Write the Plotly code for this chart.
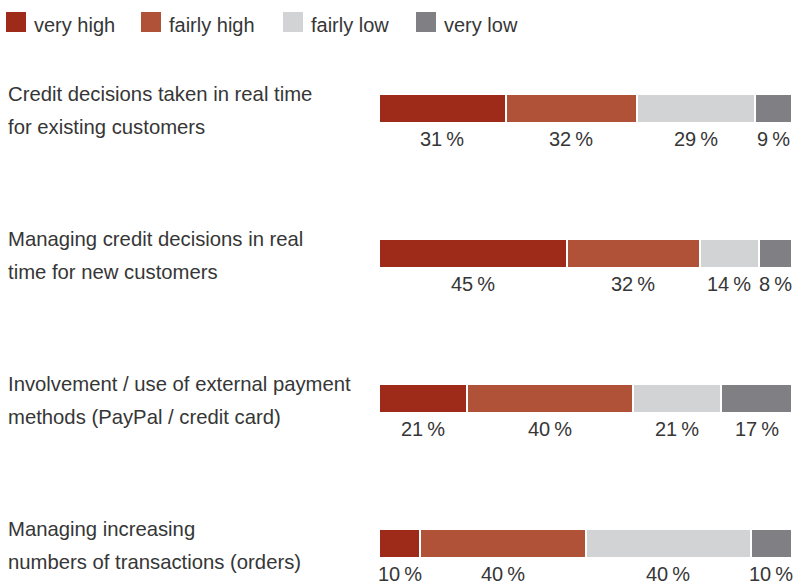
import plotly.graph_objects as go

# Survey items (each split into its two display lines)
categories = [
    "Credit decisions taken in real time<br>for existing customers",
    "Managing credit decisions in real<br>time for new customers",
    "Involvement / use of external payment<br>methods (PayPal / credit card)",
    "Managing increasing<br>numbers of transactions (orders)",
]

series_names = ["very high", "fairly high", "fairly low", "very low"]

very_high = [31, 45, 21, 10]
fairly_high = [32, 32, 40, 40]
fairly_low = [29, 14, 21, 40]
very_low = [9, 8, 17, 10]

series_values = [very_high, fairly_high, fairly_low, very_low]
series_colors = ["#9E2A19", "#B05237", "#D2D3D5", "#808084"]

TEXT_COLOR = "#363636"
FONT = "Liberation Sans, Arial, sans-serif"
W, H = 795, 582

fig = go.Figure()

for name, vals, color in zip(series_names, series_values, series_colors):
    fig.add_trace(go.Bar(
        name=name,
        y=categories,
        x=vals,
        orientation="h",
        width=0.2,
        marker=dict(color=color, line=dict(color="white", width=2)),
        showlegend=False,
        hoverinfo="skip",
    ))

annotations = []

# Percentage labels under each segment (segments are normalised per row)
for ci, cat in enumerate(categories):
    row = [vals[ci] for vals in series_values]
    total = sum(row)
    cum = 0
    for v in row:
        mid = (cum + v / 2) / total * 100
        cum += v
        annotations.append(dict(
            x=mid, y=cat, xref="x", yref="y",
            text=f"{v}\u2009%", showarrow=False,
            xanchor="center", yanchor="middle", yshift=-30.5,
            font=dict(size=20, color=TEXT_COLOR, family=FONT),
        ))

# Row labels on the left, one annotation per line for wider leading
for cat in categories:
    lines = cat.split("<br>")
    for li, line in enumerate(lines):
        annotations.append(dict(
            x=6 / W, y=cat, xref="paper", yref="y",
            text=line, showarrow=False,
            xanchor="left", yanchor="middle",
            yshift=14.5 if li == 0 else -18,
            font=dict(size=20.3, color=TEXT_COLOR, family=FONT),
        ))

# Legend drawn as swatches plus labels across the top
legend_x = [6, 141, 283, 416]
shapes = []
for name, color, lx in zip(series_names, series_colors, legend_x):
    shapes.append(dict(
        type="rect", xref="paper", yref="paper",
        x0=lx / W, x1=(lx + 20) / W, y0=1 - 32 / H, y1=1 - 12 / H,
        fillcolor=color, line=dict(width=0),
    ))
    annotations.append(dict(
        x=(lx + 26) / W, y=1 - 25 / H, xref="paper", yref="paper",
        text=name, showarrow=False, xanchor="left", yanchor="middle",
        font=dict(size=20, color=TEXT_COLOR, family=FONT),
    ))

fig.update_layout(
    width=W, height=H,
    margin=dict(l=0, r=0, t=0, b=0),
    paper_bgcolor="white", plot_bgcolor="white",
    barmode="stack", barnorm="percent",
    xaxis=dict(domain=[379 / W, 792 / W], range=[0, 100], visible=False, fixedrange=True),
    yaxis=dict(type="category", categoryorder="array", categoryarray=categories,
               range=[3.2655, -0.7483], visible=False, fixedrange=True),
    annotations=annotations,
    shapes=shapes,
    showlegend=False,
)

fig.write_html("out.html")
